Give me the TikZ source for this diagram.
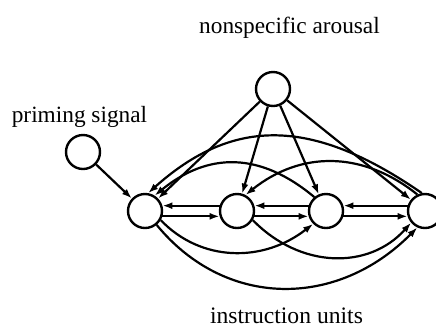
\documentclass[tikz,border=0pt]{standalone}
\usepackage{fontspec}
\setmainfont{Liberation Serif}
\usetikzlibrary{arrows.meta}
\begin{document}
\begin{tikzpicture}[x=1bp,y=-1bp,
  unit/.style={circle,draw,line width=2.4bp,minimum size=34bp,inner sep=0pt},
  conn/.style={line width=2.2bp,-{Latex[length=10bp,width=7bp]}},
  lbl/.style={font=\fontsize{23.4}{28}\selectfont,inner sep=0pt,anchor=base}]
\useasboundingbox (0,0) rectangle (436,328);
\node[unit] (ar) at (273,89) {};
\node[unit] (pr) at (83,152) {};
\node[unit] (u1) at (145,211) {};
\node[unit] (u2) at (237,211) {};
\node[unit] (u3) at (326,211) {};
\node[unit] (u4) at (425,211) {};
\node[lbl] (tar) at (289.5,33) {nonspecific arousal};
\node[lbl] (tpr) at (79.5,122) {priming signal};
\node[lbl,font=\fontsize{23.7}{28}\selectfont] (tin) at (286.5,323) {instruction units};
% priming and arousal
\draw[conn] (pr) -- (u1);
\foreach \u in {u1,u2,u3,u4} \draw[conn] (ar) -- (\u);
% neighbour pairs
\draw[conn] (u2.163) -- (u1.17);
\draw[conn] (u1.-17) -- (u2.197);
\draw[conn] (u3.163) -- (u2.17);
\draw[conn] (u2.-17) -- (u3.197);
\draw[conn] (u4.163) -- (u3.17);
\draw[conn] (u3.-17) -- (u4.197);
% upper (backward) arcs
\draw[conn] (u4.100) .. controls +(-110,-76) and +(85,-76) .. (u1.80);
\draw[conn] (u3.130) .. controls +(-54,-45) and +(54,-44) .. (u1.58);
\draw[conn] (u4.115) .. controls +(-55,-44) and +(55,-44) .. (u2.62);
% lower (forward) arcs
\draw[conn] (u1.-30) .. controls +(40,42) and +(-50,39) .. (u3.-135);
\draw[conn] (u2.-30) .. controls +(48,49) and +(-42,47) .. (u4.-140);
\draw[conn] (u1.-50) .. controls +(69,84) and +(-80,81) .. (u4.-115);
\end{tikzpicture}
\end{document}
